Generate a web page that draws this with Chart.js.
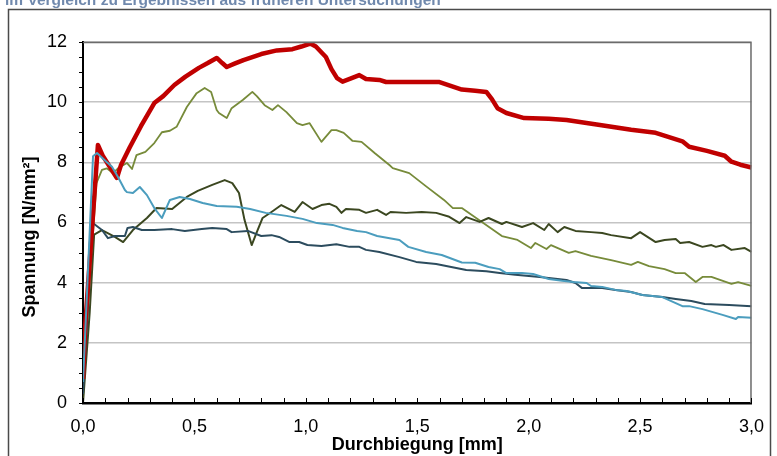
<!DOCTYPE html>
<html><head><meta charset="utf-8">
<script src="https://cdn.jsdelivr.net/npm/chart.js@4.4.1/dist/chart.umd.min.js"></script>
<style>
html,body{margin:0;padding:0;background:#fff;overflow:hidden}
#wrap{position:relative;width:777px;height:456px}
canvas{position:absolute;left:0;top:0}
#cap{position:absolute;left:5px;top:-9px;font:bold 15.5px "Liberation Sans",Arial,sans-serif;color:#7089AD;white-space:nowrap;line-height:normal;z-index:2}
</style></head>
<body><div id="wrap"><canvas id="c" width="777" height="456"></canvas><div id="cap">im Vergleich zu Ergebnissen aus früheren Untersuchungen</div></div>
<script>
// ---- data (x = Durchbiegung [mm], y = Spannung [N/mm²]) ----
const xTicks = [0, 0.5, 1.0, 1.5, 2.0, 2.5, 3.0];
const yTicks = [0, 2, 4, 6, 8, 10, 12];
const xTitle = 'Durchbiegung [mm]';
const yTitle = 'Spannung [N/mm²]';

const redSeries = [[0,0.8],[0.01,2.6],[0.067,8.58],[0.09,8.2],[0.152,7.48],[0.17,7.9],[0.21,8.5],[0.26,9.2],[0.32,9.97],[0.36,10.2],[0.41,10.57],[0.46,10.85],[0.52,11.14],[0.56,11.3],[0.6,11.47],[0.625,11.3],[0.645,11.17],[0.68,11.28],[0.72,11.4],[0.8,11.6],[0.87,11.72],[0.94,11.76],[0.98,11.85],[1.02,11.95],[1.045,11.85],[1.09,11.5],[1.115,11.1],[1.14,10.8],[1.165,10.68],[1.2,10.78],[1.24,10.9],[1.27,10.77],[1.33,10.74],[1.36,10.67],[1.45,10.67],[1.6,10.67],[1.64,10.57],[1.7,10.42],[1.76,10.38],[1.81,10.34],[1.835,10.1],[1.86,9.8],[1.9,9.64],[1.98,9.47],[2.09,9.45],[2.17,9.41],[2.32,9.24],[2.46,9.08],[2.57,8.98],[2.69,8.7],[2.72,8.52],[2.8,8.38],[2.88,8.22],[2.91,8.02],[2.95,7.92],[3.0,7.83]];

const oliveSeries = [[0,0.2],[0.03,4],[0.06,7.3],[0.085,7.75],[0.107,7.8],[0.135,7.64],[0.157,7.8],[0.197,7.98],[0.22,7.78],[0.24,8.24],[0.28,8.35],[0.32,8.64],[0.354,9.0],[0.39,9.05],[0.42,9.18],[0.466,9.84],[0.51,10.3],[0.546,10.47],[0.575,10.34],[0.6,9.74],[0.61,9.64],[0.645,9.47],[0.667,9.8],[0.717,10.07],[0.76,10.34],[0.78,10.2],[0.815,9.9],[0.85,9.74],[0.875,9.9],[0.913,9.67],[0.96,9.3],[0.985,9.24],[1.017,9.3],[1.07,8.68],[1.115,9.07],[1.137,9.07],[1.17,8.98],[1.21,8.71],[1.25,8.68],[1.31,8.3],[1.375,7.91],[1.39,7.81],[1.464,7.64],[1.54,7.2],[1.62,6.75],[1.66,6.48],[1.7,6.48],[1.79,6.02],[1.88,5.55],[1.95,5.42],[2.01,5.15],[2.03,5.32],[2.08,5.12],[2.1,5.25],[2.18,4.99],[2.21,5.05],[2.28,4.89],[2.37,4.75],[2.46,4.59],[2.49,4.69],[2.54,4.55],[2.61,4.45],[2.66,4.32],[2.7,4.32],[2.75,4.02],[2.78,4.19],[2.82,4.19],[2.91,3.96],[2.94,4.02],[3.0,3.89]];

const darkOliveSeries = [[0,0],[0.03,3],[0.05,5.6],[0.085,5.75],[0.143,5.52],[0.18,5.35],[0.224,5.75],[0.287,6.15],[0.33,6.48],[0.4,6.45],[0.466,6.85],[0.515,7.05],[0.58,7.25],[0.636,7.41],[0.67,7.31],[0.7,6.98],[0.725,6.08],[0.757,5.25],[0.78,5.68],[0.806,6.15],[0.846,6.35],[0.89,6.58],[0.95,6.35],[0.985,6.68],[1.03,6.45],[1.07,6.58],[1.106,6.62],[1.137,6.52],[1.16,6.32],[1.18,6.45],[1.24,6.42],[1.27,6.32],[1.32,6.42],[1.36,6.25],[1.38,6.35],[1.45,6.32],[1.52,6.35],[1.585,6.32],[1.64,6.2],[1.69,5.98],[1.72,6.18],[1.78,6.02],[1.82,6.15],[1.88,5.95],[1.9,6.02],[1.97,5.85],[2.02,5.98],[2.07,5.75],[2.09,5.95],[2.13,5.68],[2.16,5.85],[2.21,5.72],[2.28,5.68],[2.33,5.65],[2.37,5.58],[2.46,5.48],[2.5,5.68],[2.57,5.35],[2.61,5.42],[2.66,5.45],[2.68,5.32],[2.72,5.35],[2.78,5.19],[2.82,5.25],[2.84,5.19],[2.875,5.25],[2.91,5.09],[2.97,5.15],[3.0,5.02]];

const lightBlueSeries = [[0,0.7],[0.02,4],[0.045,8.2],[0.063,8.31],[0.1,8.05],[0.13,7.85],[0.157,7.51],[0.188,7.08],[0.197,7.01],[0.224,6.98],[0.255,7.18],[0.287,6.91],[0.32,6.48],[0.354,6.15],[0.39,6.75],[0.434,6.85],[0.48,6.78],[0.537,6.65],[0.6,6.55],[0.69,6.52],[0.75,6.45],[0.82,6.32],[0.913,6.22],[0.985,6.12],[1.05,5.98],[1.12,5.92],[1.165,5.82],[1.23,5.72],[1.27,5.68],[1.32,5.55],[1.42,5.42],[1.46,5.19],[1.54,5.02],[1.61,4.92],[1.7,4.67],[1.76,4.66],[1.82,4.52],[1.87,4.45],[1.9,4.32],[1.97,4.32],[2.02,4.29],[2.09,4.12],[2.15,4.06],[2.2,4.02],[2.26,3.99],[2.28,3.89],[2.33,3.86],[2.39,3.76],[2.44,3.72],[2.51,3.59],[2.6,3.52],[2.69,3.22],[2.72,3.22],[2.78,3.12],[2.87,2.93],[2.93,2.79],[2.94,2.86],[3.0,2.83]];

const darkSlateSeries = [[0,0.3],[0.02,3],[0.04,5.9],[0.05,5.95],[0.085,5.75],[0.112,5.48],[0.143,5.55],[0.188,5.55],[0.2,5.82],[0.224,5.85],[0.264,5.75],[0.32,5.75],[0.4,5.78],[0.457,5.72],[0.533,5.78],[0.58,5.82],[0.645,5.78],[0.667,5.68],[0.74,5.72],[0.8,5.55],[0.846,5.58],[0.88,5.52],[0.927,5.35],[0.97,5.35],[1.007,5.25],[1.07,5.22],[1.137,5.28],[1.196,5.19],[1.24,5.19],[1.27,5.09],[1.33,5.02],[1.42,4.85],[1.495,4.69],[1.585,4.62],[1.675,4.49],[1.72,4.42],[1.81,4.38],[1.87,4.32],[1.94,4.26],[2.05,4.19],[2.17,4.09],[2.21,3.99],[2.24,3.82],[2.33,3.82],[2.39,3.76],[2.46,3.69],[2.51,3.59],[2.6,3.52],[2.66,3.46],[2.73,3.39],[2.79,3.29],[2.9,3.26],[3.0,3.22]];

// ---- chart ----
const FONT = '"Liberation Sans", Arial, sans-serif';
const toPts = s => s.map(p => ({x: p[0], y: p[1]}));
const fmt = v => Number(v).toFixed(1).replace('.', ',');

const extras = {
  id: 'extras',
  beforeDraw(chart) {
    const ctx = chart.ctx;
    ctx.save();
    ctx.fillStyle = '#fff';
    ctx.fillRect(0, 0, chart.width, chart.height);
    ctx.strokeStyle = '#4a4a4a';
    ctx.lineWidth = 1.5;
    ctx.strokeRect(8.5, 9.5, 762, 460);
    ctx.restore();
  },
  afterDraw(chart) {
    const {ctx, chartArea: a, scales: {x, y}} = chart;
    ctx.save();
    // top / right frame of plot area
    ctx.strokeStyle = '#6b6b6b';
    ctx.lineWidth = 1.5;
    ctx.beginPath();
    ctx.moveTo(a.left, a.top + 0.5);
    ctx.lineTo(a.right - 0.5, a.top + 0.5);
    ctx.lineTo(a.right - 0.5, a.bottom);
    ctx.stroke();
    // minor / major tick marks
    ctx.strokeStyle = '#000';
    ctx.lineWidth = 1;
    ctx.beginPath();
    const yMin = yTicks[0], yMax = yTicks[yTicks.length - 1];
    for (let k = 0; k <= (yMax - yMin) * 2; k++) {
      const py = Math.round(y.getPixelForValue(yMin + k / 2)) + 0.5;
      ctx.moveTo(a.left - 4, py); ctx.lineTo(a.left, py);
    }
    const xMin = xTicks[0], xMax = xTicks[xTicks.length - 1];
    for (let k = 0; k <= Math.round((xMax - xMin) * 10); k++) {
      const px = Math.round(x.getPixelForValue(xMin + k / 10)) + 0.5;
      ctx.moveTo(px, a.bottom); ctx.lineTo(px, a.bottom - 5);
    }
    ctx.stroke();
    // y axis title
    ctx.fillStyle = '#000';
    ctx.font = 'bold 18px ' + FONT;
    ctx.textAlign = 'center';
    ctx.textBaseline = 'middle';
    ctx.translate(30, 237);
    ctx.rotate(-Math.PI / 2);
    ctx.fillText(yTitle, 0, 0);
    ctx.restore();
  }
};

new Chart(document.getElementById('c'), {
  type: 'scatter',
  data: {
    datasets: [
      {label: 'A', data: toPts(lightBlueSeries), borderColor: '#4B9DBE', borderWidth: 2, order: 0},
      {label: 'B', data: toPts(redSeries), borderColor: '#C00000', borderWidth: 4.5, order: 1},
      {label: 'C', data: toPts(darkSlateSeries), borderColor: '#2C4C5E', borderWidth: 2, order: 2},
      {label: 'D', data: toPts(darkOliveSeries), borderColor: '#3B4720', borderWidth: 2, order: 3},
      {label: 'E', data: toPts(oliveSeries), borderColor: '#778B3A', borderWidth: 1.8, order: 4}
    ].map(d => Object.assign(d, {showLine: true, pointRadius: 0, pointHoverRadius: 0, tension: 0, fill: false, borderJoinStyle: 'round'}))
  },
  options: {
    responsive: false,
    animation: false,
    events: [],
    layout: {padding: {left: 8, top: 42, right: 24, bottom: 0}, autoPadding: false},
    plugins: {legend: {display: false}, tooltip: {enabled: false}},
    scales: {
      x: {
        type: 'linear', min: xTicks[0], max: xTicks[xTicks.length - 1],
        afterBuildTicks: s => { s.ticks = xTicks.map(v => ({value: v})); },
        afterFit: s => { s.height = 53; },
        ticks: {callback: fmt, color: '#000', font: {family: FONT, size: 18}, padding: 13, maxRotation: 0, autoSkip: false},
        grid: {display: false, drawTicks: false},
        border: {display: true, color: '#000', width: 2.5},
        title: {display: true, text: xTitle, color: '#000', font: {family: FONT, size: 18, weight: 'bold'}, padding: 0}
      },
      y: {
        type: 'linear', min: yTicks[0], max: yTicks[yTicks.length - 1],
        afterBuildTicks: s => { s.ticks = yTicks.map(v => ({value: v})); },
        afterFit: s => { s.width = 75; },
        ticks: {color: '#000', font: {family: FONT, size: 18}, padding: 16},
        grid: {color: '#C4C4C4', lineWidth: 1.5, drawTicks: false},
        border: {display: true, color: '#000', width: 2}
      }
    }
  },
  plugins: [extras]
});
</script>
</body></html>
